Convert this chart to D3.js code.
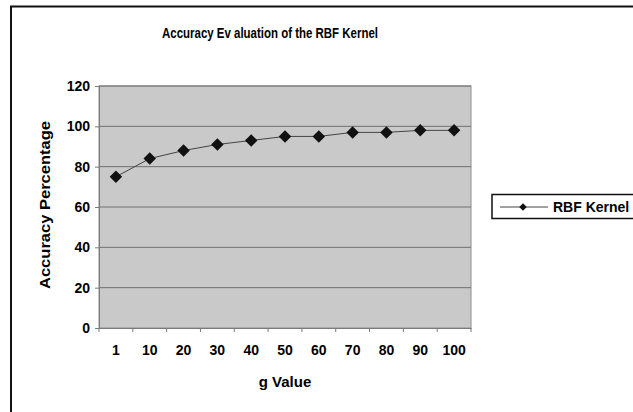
<!DOCTYPE html>
<html>
<head>
<meta charset="utf-8">
<script src="https://cdn.jsdelivr.net/npm/d3@7"></script>
<style>
  body { margin: 0; background: #fff; }
  text { font-family: "Liberation Sans", Arial, sans-serif; font-weight: bold; }
</style>
</head>
<body>
<svg id="chart" width="633" height="412"></svg>
<script>
// chart data
var gValues = ["1", "10", "20", "30", "40", "50", "60", "70", "80", "90", "100"];
var accuracy = [75, 84, 88, 91, 93, 95, 95, 97, 97, 98, 98];
var yTicks = [0, 20, 40, 60, 80, 100, 120];
var seriesName = "RBF Kernel";

var svg = d3.select("#chart");

// outer frame (runs off the right and bottom edge)
svg.append("rect")
  .attr("x", 11).attr("y", 6.5)
  .attr("width", 640).attr("height", 420)
  .attr("fill", "none").attr("stroke", "#111").attr("stroke-width", 2);

var margin = { top: 86, left: 99, right: 471, bottom: 328 };

var x = d3.scaleBand()
  .domain(gValues)
  .range([margin.left, margin.right]);

var y = d3.scaleLinear()
  .domain([0, 120])
  .range([margin.bottom, margin.top]);

// plot background
svg.append("rect")
  .attr("x", margin.left).attr("y", margin.top)
  .attr("width", margin.right - margin.left)
  .attr("height", margin.bottom - margin.top)
  .attr("fill", "#c9c9c9")
  .attr("stroke", "#8c8c8c").attr("stroke-width", 1);

// gridlines
svg.append("g")
  .selectAll("line")
  .data(yTicks.filter(d => d > 0))
  .enter()
  .append("line")
  .attr("x1", margin.left).attr("x2", margin.right)
  .attr("y1", d => y(d)).attr("y2", d => y(d))
  .attr("stroke", "#707070").attr("stroke-width", 1);

// y axis
var yAxis = svg.append("g")
  .attr("transform", "translate(" + margin.left + ",0)")
  .call(d3.axisLeft(y).tickValues(yTicks).tickSize(4).tickPadding(5));
yAxis.select(".domain").attr("stroke", "#7a7a7a");
yAxis.selectAll(".tick line").attr("stroke", "#7a7a7a");
yAxis.selectAll("text").attr("font-size", 14).attr("fill", "#000")
  .style("font-family", "Liberation Sans, Arial, sans-serif").style("font-weight", "bold");

// x axis: ticks at category boundaries
var xAxis = svg.append("g")
  .attr("transform", "translate(0," + margin.bottom + ")")
  .call(d3.axisBottom(x).tickSize(0).tickPadding(17));
xAxis.select(".domain").attr("stroke", "#7a7a7a");
xAxis.selectAll("text").attr("font-size", 14).attr("fill", "#000")
  .style("font-family", "Liberation Sans, Arial, sans-serif").style("font-weight", "bold");
xAxis.selectAll(".boundary")
  .data(gValues.concat(["end"]))
  .enter()
  .append("line")
  .attr("x1", (d, i) => margin.left + i * x.bandwidth())
  .attr("x2", (d, i) => margin.left + i * x.bandwidth())
  .attr("y1", 0).attr("y2", 4)
  .attr("stroke", "#7a7a7a");

// series line
var line = d3.line()
  .x((d, i) => x(gValues[i]) + x.bandwidth() / 2)
  .y(d => y(d));

svg.append("path")
  .datum(accuracy)
  .attr("d", line)
  .attr("fill", "none")
  .attr("stroke", "#444")
  .attr("stroke-width", 1);

var diamond = d3.symbol().type(d3.symbolSquare).size(78);
svg.append("g")
  .selectAll("path")
  .data(accuracy)
  .enter()
  .append("path")
  .attr("d", diamond)
  .attr("transform", (d, i) => "translate(" + (x(gValues[i]) + x.bandwidth() / 2) + "," + y(d) + ") rotate(45)")
  .attr("fill", "#111");

// titles
svg.append("text")
  .attr("x", 270).attr("y", 38)
  .attr("text-anchor", "middle")
  .attr("font-size", 15)
  .attr("textLength", 216)
  .attr("lengthAdjust", "spacingAndGlyphs")
  .text("Accuracy Ev aluation of the RBF Kernel");

svg.append("text")
  .attr("x", 285).attr("y", 387)
  .attr("text-anchor", "middle")
  .attr("font-size", 15)
  .text("g Value");

svg.append("text")
  .attr("transform", "translate(50,205) rotate(-90)")
  .attr("text-anchor", "middle")
  .attr("font-size", 14)
  .attr("textLength", 168)
  .attr("lengthAdjust", "spacingAndGlyphs")
  .text("Accuracy Percentage");

// legend
var legend = svg.append("g");
legend.append("rect")
  .attr("x", 492).attr("y", 194.5)
  .attr("width", 160).attr("height", 24)
  .attr("fill", "#fff").attr("stroke", "#111").attr("stroke-width", 1.5);
legend.append("line")
  .attr("x1", 500).attr("x2", 548)
  .attr("y1", 207).attr("y2", 207)
  .attr("stroke", "#444");
legend.append("path")
  .attr("d", d3.symbol().type(d3.symbolSquare).size(28))
  .attr("transform", "translate(523,207) rotate(45)")
  .attr("fill", "#111");
legend.append("text")
  .attr("x", 553).attr("y", 212)
  .attr("font-size", 14)
  .text(seriesName);
</script>
</body>
</html>
